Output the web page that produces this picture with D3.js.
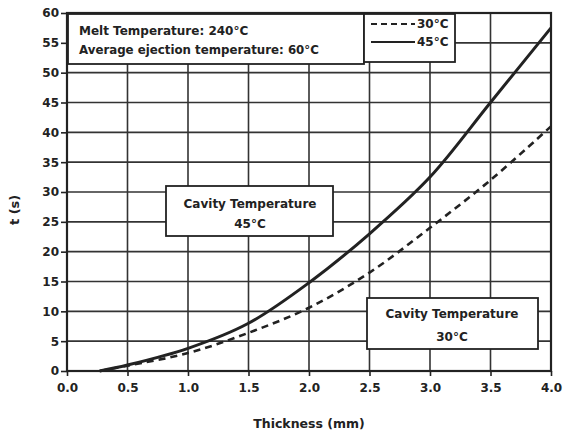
<!DOCTYPE html>
<html>
<head>
<meta charset="utf-8">
<script src="https://cdn.jsdelivr.net/npm/d3@7"></script>
<style>
  body { margin: 0; background: #fff; }
  svg { font-family: "DejaVu Sans", sans-serif; font-weight: bold; }
</style>
</head>
<body>
<svg id="chart" width="564" height="437"></svg>
<script>
// data
const thickness = [0.27, 0.5, 1.0, 1.5, 2.0, 2.5, 3.0, 3.5, 4.0];
const t45 = [0, 1.0, 3.8, 8.0, 14.8, 23.0, 32.5, 45.0, 57.5];
const t30 = [0, 0.9, 3.0, 6.4, 10.6, 16.5, 24.0, 32.0, 41.0];
const xTicks = [0, 0.5, 1.0, 1.5, 2.0, 2.5, 3.0, 3.5, 4.0];
const yTicks = [0, 5, 10, 15, 20, 25, 30, 35, 40, 45, 50, 55, 60];

(function() {
  const margin = {left: 67, right: 13, top: 13, bottom: 66};
  const width = 564 - margin.left - margin.right,
        height = 437 - margin.top - margin.bottom;

  const x = d3.scaleLinear().domain([0, 4]).range([0, width]);
  const y = d3.scaleLinear().domain([0, 60]).range([height, 0]);

  const svg = d3.select('#chart');
  const g = svg.append('g').attr('transform', `translate(${margin.left},${margin.top})`);

  // grid
  g.append('g').selectAll('line').data(xTicks).enter().append('line')
    .attr('x1', d => x(d)).attr('x2', d => x(d))
    .attr('y1', 0).attr('y2', height)
    .attr('stroke', '#333').attr('stroke-width', 1.6);
  g.append('g').selectAll('line').data(yTicks).enter().append('line')
    .attr('x1', 0).attr('x2', width)
    .attr('y1', d => y(d)).attr('y2', d => y(d))
    .attr('stroke', '#333').attr('stroke-width', 1.6);

  // axes
  const xAxis = g.append('g').attr('transform', `translate(0,${height})`)
    .call(d3.axisBottom(x).tickValues(xTicks).tickFormat(d3.format('.1f')).tickSize(5).tickPadding(7));
  const yAxis = g.append('g')
    .call(d3.axisLeft(y).tickValues(yTicks).tickSize(6).tickPadding(2));
  [xAxis, yAxis].forEach(a => {
    a.select('.domain').remove();
    a.selectAll('line').attr('stroke', '#222').attr('stroke-width', 1.6);
    a.selectAll('text').attr('fill', '#222').style('font-size', '12px')
      .style('font-family', '"DejaVu Sans", sans-serif').style('font-weight', 'bold');
  });

  // frame
  g.append('rect').attr('width', width).attr('height', height)
    .attr('fill', 'none').attr('stroke', '#222').attr('stroke-width', 2.2);

  // curves
  const line = d3.line().x(d => x(d[0])).y(d => y(d[1])).curve(d3.curveCatmullRom);
  g.append('path').datum(d3.zip(thickness, t30)).attr('d', line)
    .attr('fill', 'none').attr('stroke', '#222').attr('stroke-width', 2.6)
    .attr('stroke-dasharray', '7,5');
  g.append('path').datum(d3.zip(thickness, t45)).attr('d', line)
    .attr('fill', 'none').attr('stroke', '#222').attr('stroke-width', 3);

  // boxes drawn in pixel space, relative to the plot
  const box = (x0, y0, w, h) => g.append('rect')
    .attr('x', x0).attr('y', y0).attr('width', w).attr('height', h)
    .attr('fill', '#fff').attr('stroke', '#222').attr('stroke-width', 1.8);
  const label = (tx, ty, s, anchor = 'start', size = 12) => g.append('text')
    .attr('x', tx).attr('y', ty).attr('text-anchor', anchor)
    .style('font-size', `${size}px`).attr('fill', '#222').text(s);

  // melt temp box
  box(1, 1, 296, 50);
  label(12, 22, 'Melt Temperature: 240°C');
  label(12, 41, 'Average ejection temperature: 60°C', 'start', 11.8);

  // legend
  box(297, 1, 91, 48);
  g.append('line').attr('x1', 304).attr('x2', 348).attr('y1', 11).attr('y2', 11)
    .attr('stroke', '#222').attr('stroke-width', 2).attr('stroke-dasharray', '6,4');
  g.append('line').attr('x1', 304).attr('x2', 348).attr('y1', 29).attr('y2', 29)
    .attr('stroke', '#222').attr('stroke-width', 2);
  label(350, 15, '30°C');
  label(350, 33, '45°C');

  // cavity 45 box
  box(99, 173, 167, 50);
  label(183, 195, 'Cavity Temperature', 'middle');
  label(183, 215, '45°C', 'middle');

  // cavity 30 box
  box(300, 285, 171, 51);
  label(385, 305, 'Cavity Temperature', 'middle');
  label(385, 328, '30°C', 'middle');

  // axis titles
  svg.append('text').attr('x', margin.left + width / 2).attr('y', 428)
    .attr('text-anchor', 'middle').style('font-size', '12.5px').attr('fill', '#222')
    .text('Thickness (mm)');
  svg.append('text').attr('transform', `translate(19,${margin.top + y(27)}) rotate(-90)`)
    .attr('text-anchor', 'middle').style('font-size', '13px').attr('fill', '#222')
    .text('t (s)');
})();
</script>
</body>
</html>
